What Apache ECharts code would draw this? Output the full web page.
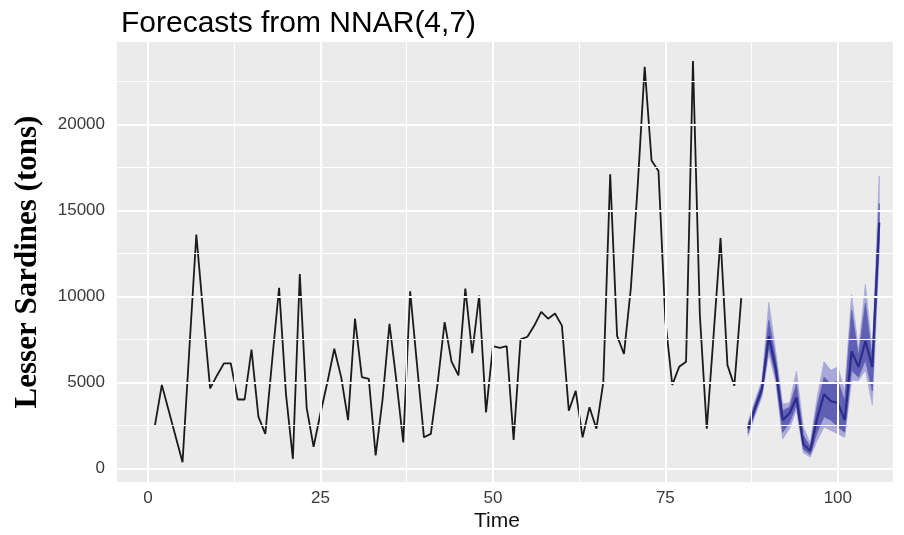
<!DOCTYPE html>
<html><head><meta charset="utf-8">
<script src="https://cdn.jsdelivr.net/npm/echarts@6/dist/echarts.min.js"></script>
<style>html,body{margin:0;padding:0;background:#fff}#c{width:904px;height:535px}</style>
</head><body><div id="c"></div>
<script>
const obsTime = [1,2,3,4,5,6,7,8,9,10,11,12,13,14,15,16,17,18,19,20,21,22,23,24,25,26,27,28,29,30,31,32,33,34,35,36,37,38,39,40,41,42,43,44,45,46,47,48,49,50,51,52,53,54,55,56,57,58,59,60,61,62,63,64,65,66,67,68,69,70,71,72,73,74,75,76,77,78,79,80,81,82,83,84,85,86];
const obsValue = [2500,4850,3350,1850,350,7000,13600,9000,4650,5400,6100,6100,4000,4000,6900,3000,2000,6300,10500,4300,550,11300,3500,1250,3200,5000,6950,5300,2800,8700,5300,5200,750,4000,8400,5100,1500,10300,6000,1800,2000,5000,8500,6200,5400,10450,6700,10050,3250,7100,7000,7100,1650,7500,7650,8300,9100,8700,9000,8300,3350,4500,1800,3550,2300,5000,17100,7700,6650,10500,16500,23350,17900,17300,8600,4850,5900,6200,23700,8900,2300,7800,13400,6000,4800,9900];
const fcTime = [87,88,89,90,91,92,93,94,95,96,97,98,99,100,101,102,103,104,105,106];
const fcMean = [2300,3500,4600,7700,5800,2800,3200,4100,1400,1000,2900,4300,3900,3800,2800,6800,5900,7400,5900,14300];
const fcLo95 = [1900,3050,4150,6650,5000,1700,2300,3400,900,650,1600,2400,2200,2000,1800,5100,5100,5700,3700,12500];
const fcLo80 = [2050,3250,4350,7050,5350,2100,2650,3700,1100,800,2100,3000,2800,2400,2100,5700,5300,6300,4500,13300];
const fcHi80 = [2550,3750,4900,8600,6350,3350,3550,4900,1900,1250,3600,5300,4900,5100,3900,9200,6500,9600,6300,15400];
const fcHi95 = [2700,3950,5100,9650,6800,3750,3800,5650,2400,1450,4100,6200,5700,5900,4500,10100,6900,10700,6700,17000];
const xTicks = [0,25,50,75,100];
const xMinor = [12.5,37.5,62.5,87.5];
const yTicks = [0,5000,10000,15000,20000];
const yMinor = [2500,7500,12500,17500,22500];

const zip = (a,b) => a.map((v,i)=>[v,b[i]]);

const gridLines = [];
xTicks.forEach(v=>gridLines.push({xAxis:v, lineStyle:{color:'#fff',width:2,type:'solid'}}));
xMinor.forEach(v=>gridLines.push({xAxis:v, lineStyle:{color:'#fff',width:1.1,type:'solid'}}));
yTicks.forEach(v=>gridLines.push({yAxis:v, lineStyle:{color:'#fff',width:2,type:'solid'}}));
yMinor.forEach(v=>gridLines.push({yAxis:v, lineStyle:{color:'#fff',width:1.1,type:'solid'}}));

function bandSeries(lo, hi, color, z){
  return {
    type:'custom', z:z, silent:true,
    data: fcTime.map((t,i)=>[t, lo[i], hi[i]]),
    encode:{x:0, y:[1,2]},
    renderItem:function(params, api){
      if (params.dataIndex !== 0) return null;
      const upper = fcTime.map((t,i)=>api.coord([t, hi[i]]));
      const lower = fcTime.map((t,i)=>api.coord([t, lo[i]])).reverse();
      return {type:'polygon', shape:{points: upper.concat(lower)}, style:{fill:color, stroke:color, lineWidth:0.8}};
    }
  };
}

const chart = echarts.init(document.getElementById('c'), null, {renderer:'canvas'});
chart.setOption({
  animation:false,
  backgroundColor:'#fff',
  title:[
    {text:'Forecasts from NNAR(4,7)', left:116, top:4, textStyle:{fontFamily:'Liberation Sans', fontSize:30, fontWeight:'normal', color:'#000'}},
    {text:'Time', left:492, top:506, textAlign:'center', textStyle:{fontFamily:'Liberation Sans', fontSize:21, fontWeight:'normal', color:'#111'}}
  ],
  grid:{left:117, right:11, top:42, bottom:53, show:true, backgroundColor:'#EBEBEB', borderWidth:0},
  xAxis:{type:'value', min:-4.5, max:108,
    axisLine:{show:false}, splitLine:{show:false},
    axisTick:{show:true, customValues:xTicks, length:5, lineStyle:{color:'#333', width:1.5}},
    axisLabel:{customValues:xTicks, formatter:v=>String(v), fontFamily:'Liberation Sans', fontSize:17, color:'#3a3a3a', margin:8}
  },
  yAxis:{type:'value', min:-800, max:24800,
    name:'Lesser Sardines (tons)', nameLocation:'middle', nameRotate:90, nameGap:74,
    nameTextStyle:{fontFamily:'Liberation Serif', fontWeight:'bold', fontSize:31, color:'#000'},
    axisLine:{show:false}, splitLine:{show:false},
    axisTick:{show:true, customValues:yTicks, length:5, lineStyle:{color:'#333', width:1.5}},
    axisLabel:{customValues:yTicks, formatter:v=>String(v), fontFamily:'Liberation Sans', fontSize:17, color:'#3a3a3a', margin:12}
  },
  series:[
    {type:'line', data:[], z:1, silent:true,
      markLine:{silent:true, symbol:['none','none'], label:{show:false}, animation:false, data:gridLines}},
    bandSeries(fcLo95, fcHi95, '#A9A9D9', 2),
    bandSeries(fcLo80, fcHi80, '#5F5FB3', 3),
    {type:'line', data:zip(fcTime,fcMean), symbol:'none', lineStyle:{color:'#2C2C8C', width:2.2}, z:4},
    {type:'line', data:zip(obsTime,obsValue), symbol:'none', lineStyle:{color:'#1A1A1A', width:1.8}, z:4}
  ]
});
</script></body></html>
